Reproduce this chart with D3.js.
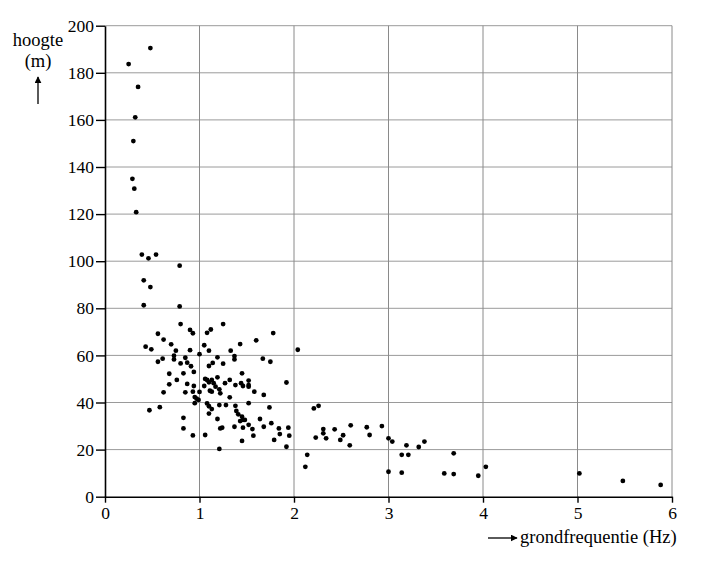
<!DOCTYPE html>
<html>
<head>
<meta charset="utf-8">
<script src="https://cdn.jsdelivr.net/npm/d3@7"></script>
<style>
  body { margin: 0; background: #fff; }
  svg text { font-family: "Liberation Serif", "DejaVu Serif", serif; }
</style>
</head>
<body>
<svg id="canvas"></svg>
<script>
// grondfrequentie (Hz) en hoogte (m) per gebouw
let freq = [
  0.25, 0.48, 0.35, 0.32, 0.30, 0.29, 0.31, 0.33,
  0.39, 0.46, 0.54, 0.79, 0.41, 0.48, 0.41, 0.79, 0.80,
  0.56, 0.62, 0.90, 0.93, 1.08, 1.12, 1.25, 1.78, 1.60, 1.43, 1.05, 0.70, 0.43, 0.49, 0.75, 0.90, 1.10, 1.33, 2.04, 1.00,
  0.73, 0.73, 0.61, 0.56, 0.85, 0.80, 0.87, 0.91, 1.19, 1.37, 1.37, 1.67, 1.75, 1.25, 1.14, 1.10,
  0.68, 0.83, 0.94, 1.45, 0.76, 0.68, 0.87, 0.94, 0.62, 0.85, 0.93, 1.00,
  0.95, 0.97, 0.99, 0.95,
  1.06, 1.08, 1.10, 1.13, 1.05, 1.15, 1.17, 1.11, 1.13, 1.21, 1.22, 1.19, 1.27, 1.32, 1.38, 1.44, 1.46, 1.52, 1.52, 1.52, 1.58, 1.68, 1.92, 1.32,
  1.08, 1.10, 1.13, 1.10, 1.21, 1.28, 1.38, 1.39, 1.41, 1.52, 1.74, 1.45, 1.46, 1.43, 1.48, 1.19, 1.64,
  1.22, 1.24, 1.37, 1.46, 1.52, 1.56, 1.68, 1.76, 1.84, 1.94, 1.57, 1.85, 1.95, 1.79, 1.45, 1.92, 1.21,
  0.47, 0.58, 0.83, 0.83, 0.93, 1.06,
  2.21, 2.26, 2.23, 2.31, 2.31, 2.34, 2.43, 2.52, 2.49, 2.59, 2.60, 2.77, 2.80, 2.93, 3.00, 3.04, 3.00, 3.14, 3.14, 3.19, 3.21, 3.32, 3.38, 3.59, 3.69, 3.69, 3.95, 4.03, 2.12, 2.14,
  5.02, 5.48, 5.88
];
let hoogte = [
  183.7, 190.5, 174.0, 161.1, 151.0, 135.0, 130.8, 120.8,
  102.8, 101.2, 102.8, 98.1, 91.9, 89.0, 81.3, 80.8, 73.3,
  69.2, 66.7, 70.8, 69.4, 69.6, 71.0, 73.3, 69.5, 66.4, 64.8, 64.3, 64.7, 63.7, 62.6, 62.0, 62.2, 62.0, 62.0, 62.4, 60.5,
  59.9, 58.3, 58.6, 57.3, 59.0, 56.6, 56.9, 55.4, 59.2, 59.7, 58.3, 58.6, 57.3, 56.5, 56.8, 55.5,
  52.2, 52.4, 53.0, 52.4, 49.6, 47.7, 47.9, 47.0, 44.3, 44.3, 44.6, 44.5,
  42.3, 41.6, 41.1, 39.7,
  50.0, 49.6, 48.6, 49.6, 47.0, 48.2, 46.7, 45.0, 44.6, 45.6, 43.9, 50.7, 48.2, 49.6, 47.4, 48.2, 47.0, 47.4, 49.3, 46.7, 44.6, 43.2, 48.5, 42.2,
  39.6, 38.4, 37.2, 35.3, 38.9, 38.9, 38.6, 36.4, 35.0, 39.7, 37.9, 34.0, 32.6, 32.1, 32.6, 33.0, 33.0,
  29.0, 29.3, 29.7, 29.3, 30.5, 28.7, 29.7, 31.2, 29.0, 29.3, 25.9, 26.6, 25.9, 24.1, 23.7, 21.2, 20.3,
  36.7, 38.0, 33.5, 29.0, 26.0, 26.2,
  37.5, 38.6, 25.1, 28.7, 26.9, 24.8, 28.6, 26.1, 24.1, 21.8, 30.3, 29.5, 26.2, 30.0, 24.8, 23.4, 10.6, 17.8, 10.2, 21.8, 17.8, 21.1, 23.4, 9.9, 18.4, 9.6, 8.9, 12.7, 12.7, 17.8,
  9.9, 6.7, 5.0
];

let xTicks = [0, 1, 2, 3, 4, 5, 6];
let yTicks = [0, 20, 40, 60, 80, 100, 120, 140, 160, 180, 200];

let width = 710;
let height = 582;
let plotLeft = 105;
let plotRight = 672;
let plotTop = 25.7;
let plotBottom = 496.7;

let canvas = d3.select("#canvas")
  .attr("width", width)
  .attr("height", height);

let xScale = d3.scaleLinear()
  .domain([0, 6])
  .range([plotLeft, plotRight]);

let yScale = d3.scaleLinear()
  .domain([0, 200])
  .range([plotBottom, plotTop]);

let drawGrid = () => {
  canvas.append("g")
    .selectAll("line")
    .data(yTicks.slice(1))
    .enter()
    .append("line")
    .attr("x1", plotLeft)
    .attr("x2", plotRight)
    .attr("y1", (d) => yScale(d))
    .attr("y2", (d) => yScale(d))
    .attr("stroke", "#9a9a9a")
    .attr("stroke-width", 1);

  canvas.append("g")
    .selectAll("line")
    .data(xTicks.slice(1))
    .enter()
    .append("line")
    .attr("x1", (d) => xScale(d))
    .attr("x2", (d) => xScale(d))
    .attr("y1", plotTop)
    .attr("y2", plotBottom)
    .attr("stroke", "#8a8a8a")
    .attr("stroke-width", 1);
}

let drawAxes = () => {
  let xAxis = d3.axisBottom(xScale)
    .tickValues(xTicks)
    .tickFormat(d3.format("d"))
    .tickSize(6)
    .tickSizeOuter(0)
    .tickPadding(4);
  let yAxis = d3.axisLeft(yScale)
    .tickValues(yTicks)
    .tickFormat(d3.format("d"))
    .tickSize(9)
    .tickSizeOuter(0)
    .tickPadding(2);

  let gx = canvas.append("g")
    .attr("transform", "translate(0, " + plotBottom + ")")
    .call(xAxis);
  let gy = canvas.append("g")
    .attr("transform", "translate(" + plotLeft + ", 0)")
    .call(yAxis);

  [gx, gy].forEach((g) => {
    g.attr("font-family", null).attr("font-size", null);
    g.select(".domain").attr("stroke", "#000").attr("stroke-width", 1.6);
    g.selectAll(".tick line").attr("stroke", "#000").attr("stroke-width", 1.4);
    g.selectAll(".tick text")
      .attr("fill", "#000")
      .style("font-family", "'Liberation Serif', serif")
      .style("font-size", "17.5px");
  });
}

let drawDots = () => {
  canvas.append("g")
    .selectAll("circle")
    .data(freq)
    .enter()
    .append("circle")
    .attr("cx", (d) => xScale(d))
    .attr("cy", (d, i) => yScale(hoogte[i]))
    .attr("r", 2.4)
    .attr("fill", "#000");
}

let drawLabels = () => {
  let defs = canvas.append("defs");
  defs.append("marker")
    .attr("id", "head")
    .attr("viewBox", "0 0 10 10")
    .attr("refX", 9)
    .attr("refY", 5)
    .attr("markerWidth", 7)
    .attr("markerHeight", 7)
    .attr("markerUnits", "userSpaceOnUse")
    .attr("orient", "auto")
    .append("path")
    .attr("d", "M0,0 L10,5 L0,10 Z")
    .attr("fill", "#000");

  canvas.append("text")
    .attr("x", 38)
    .attr("y", 46)
    .attr("text-anchor", "middle")
    .style("font-size", "18.5px")
    .text("hoogte");
  canvas.append("text")
    .attr("x", 38)
    .attr("y", 67)
    .attr("text-anchor", "middle")
    .style("font-size", "18.5px")
    .text("(m)");
  canvas.append("line")
    .attr("x1", 38)
    .attr("x2", 38)
    .attr("y1", 104)
    .attr("y2", 77)
    .attr("stroke", "#000")
    .attr("stroke-width", 1.3)
    .attr("marker-end", "url(#head)");

  canvas.append("line")
    .attr("x1", 488)
    .attr("x2", 517)
    .attr("y1", 538)
    .attr("y2", 538)
    .attr("stroke", "#000")
    .attr("stroke-width", 1.3)
    .attr("marker-end", "url(#head)");
  canvas.append("text")
    .attr("x", 520)
    .attr("y", 543)
    .style("font-size", "18.5px")
    .text("grondfrequentie (Hz)");
}

drawGrid();
drawDots();
drawAxes();
drawLabels();
</script>
</body>
</html>
